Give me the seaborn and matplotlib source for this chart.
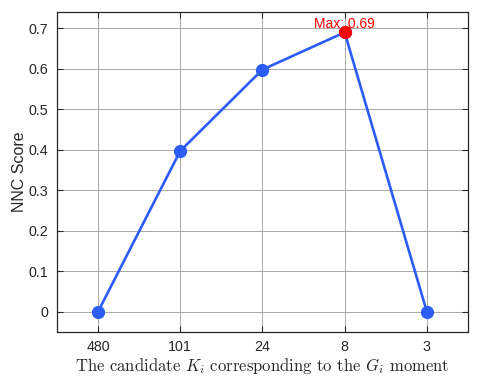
import matplotlib
matplotlib.use("Agg")
import matplotlib.pyplot as plt
import seaborn as sns
import pandas as pd

categories = ["480", "101", "24", "8", "3"]
scores = [0.0, 0.397, 0.598, 0.690, 0.0]

sns.set_style("ticks")
plt.rcParams['font.family'] = ['Liberation Sans', 'DejaVu Sans']
plt.rcParams['mathtext.fontset'] = 'cm'

df = pd.DataFrame({"pos": range(len(categories)), "score": scores})

fig = plt.figure(figsize=(4.78, 3.79), dpi=100)
ax = fig.add_axes([0.119, 0.124, 0.860, 0.844])

blue = "#2b5cf6"
sns.lineplot(data=df, x="pos", y="score", ax=ax, color=blue, linewidth=1.9,
             marker="o", markersize=9.5, markeredgewidth=0, markerfacecolor=blue, zorder=3)

imax = max(range(len(scores)), key=lambda i: scores[i])
ax.plot([imax], [scores[imax]], marker="o", markersize=9.5, color="#ff0000",
        markeredgewidth=0, zorder=4, linestyle="none")
ax.text(imax, scores[imax] + 0.003, f"Max: {scores[imax]:.2f}", color="#ff0000",
        ha="center", va="bottom", fontsize=10, zorder=5)

ax.set_xlim(-0.5, 4.5)
ax.set_ylim(-0.05, 0.74)
ax.set_xticks(range(len(categories)))
ax.set_xticklabels(categories)
ax.set_yticks([0, 0.1, 0.2, 0.3, 0.4, 0.5, 0.6, 0.7])
ax.set_yticklabels(["0", "0.1", "0.2", "0.3", "0.4", "0.5", "0.6", "0.7"])
ax.grid(True, color="#a8a8a8", linewidth=0.7)
ax.tick_params(direction="in", top=True, right=True, labelsize=10.3, colors="#262626",
               length=4, width=0.8, pad=6)
for s in ax.spines.values():
    s.set_color("#262626")
    s.set_linewidth(0.9)
ax.set_ylabel("NNC Score", fontsize=11.5, color="#262626", labelpad=1)
ax.set_xlabel("The candidate $K_i$ corresponding to the $G_i$ moment",
              fontsize=12, family="cmr10", labelpad=1)

fig.savefig("out.png", dpi=100)
